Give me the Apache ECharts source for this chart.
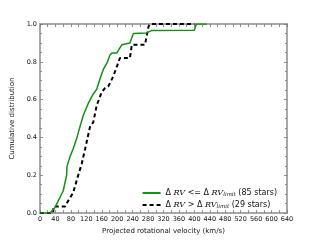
<!DOCTYPE html>
<html><head><meta charset="utf-8">
<script src="https://cdn.jsdelivr.net/npm/echarts@6/dist/echarts.min.js"></script>
<style>html,body{margin:0;padding:0;background:#fff}#c{width:320px;height:240px}</style>
</head><body><div id="c"></div>
<script>
// Green series: ΔRV <= ΔRV_limit (85 stars)
const greenX = [0, 26, 39, 60, 69, 70, 78, 86, 95, 104, 112, 125, 130, 138, 147, 155, 164, 175, 181, 186, 199, 203, 212, 233, 237, 242, 276, 289, 400, 405, 433];
const greenY = [0, 0, 0.03, 0.117, 0.2, 0.247, 0.3, 0.34, 0.394, 0.46, 0.516, 0.58, 0.59, 0.63, 0.655, 0.707, 0.76, 0.8, 0.835, 0.846, 0.846, 0.86, 0.89, 0.9, 0.905, 0.95, 0.953, 0.965, 0.967, 1.0, 1.0];
// Black dashed series: ΔRV > ΔRV_limit (29 stars)
const blackX = [0, 34, 35, 65, 73, 86, 99, 108, 117, 130, 138, 147, 160, 168, 177, 190, 200, 207, 233, 238, 272, 281, 285, 400];
const blackY = [0, 0, 0.035, 0.035, 0.065, 0.108, 0.2, 0.26, 0.34, 0.46, 0.48, 0.57, 0.64, 0.66, 0.67, 0.724, 0.78, 0.82, 0.82, 0.89, 0.89, 0.985, 1.0, 1.0];
const xTicks = [0, 640, 40];
const yTicks = [0, 1, 0.2];
const names = ['green', 'black'];

const axisGrey = '#a8a8a8';
const font = 'DejaVu Sans';
const chart = echarts.init(document.getElementById('c'), null, {renderer: 'canvas'});
function pairs(xs, ys){ return xs.map((x,i)=>[x, ys[i]]); }
const baseX = {
  type: 'value', min: xTicks[0], max: xTicks[1], interval: xTicks[2],
  axisLine: {show: true, onZero: false, lineStyle: {color: axisGrey, width: 2}},
  axisTick: {show: true, inside: true, length: 3, lineStyle: {color: '#777', width: 0.8}},
  minorTick: {show: true, splitNumber: 2, length: 3, lineStyle: {color: '#777', width: 0.8}},
  splitLine: {show: false}
};
const baseY = {
  type: 'value', min: yTicks[0], max: yTicks[1], interval: yTicks[2],
  axisLine: {show: true, onZero: false, lineStyle: {color: axisGrey, width: 2}},
  axisTick: {show: true, inside: true, length: 3, lineStyle: {color: '#777', width: 0.8}},
  minorTick: {show: true, splitNumber: 4, length: 2, lineStyle: {color: '#777', width: 0.8}},
  splitLine: {show: false}
};
const rich = {
  n: {fontFamily: font, fontSize: 8, color: '#111'},
  i: {fontFamily: 'DejaVu Serif', fontStyle: 'italic', fontSize: 8, color: '#111'},
  s: {fontFamily: 'DejaVu Serif', fontStyle: 'italic', fontSize: 5.5, color: '#111', padding: [4, 0, 0, 0]}
};
chart.setOption({
  animation: false,
  grid: {left: 40, right: 33, top: 24, bottom: 24},
  xAxis: [
    Object.assign({}, baseX, {
      position: 'bottom',
      name: 'Projected rotational velocity (km/s)', nameLocation: 'middle', nameGap: 13,
      nameTextStyle: {fontFamily: font, fontSize: 7, color: '#111'},
      axisLabel: {fontFamily: font, fontSize: 6.5, color: '#111', margin: 3}
    }),
    Object.assign({}, baseX, {position: 'top', axisLabel: {show: false}})
  ],
  yAxis: [
    Object.assign({}, baseY, {
      position: 'left',
      name: 'Cumulative distribution', nameLocation: 'middle', nameGap: 16,
      nameTextStyle: {fontFamily: font, fontSize: 7, color: '#111'},
      axisLabel: {fontFamily: font, fontSize: 6.5, color: '#111', margin: 3,
        formatter: v => v.toFixed(1)}
    }),
    Object.assign({}, baseY, {position: 'right', axisLabel: {show: false}})
  ],
  legend: {
    right: 38, bottom: 25, orient: 'vertical', itemGap: 3,
    itemWidth: 18, itemHeight: 9,
    data: names,
    itemStyle: {color: 'transparent', borderWidth: 0, opacity: 0},
    formatter: function(n){
      if (n === 'green') return '{n|Δ }{i|RV}{n| <= Δ }{i|RV}{s|limit}{n| (85 stars)}';
      return '{n|Δ }{i|RV}{n| > Δ }{i|RV}{s|limit}{n| (29 stars)}';
    },
    textStyle: {rich: rich, fontFamily: font, fontSize: 8, color: '#111'}
  },
  series: [
    {name: 'green', type: 'line', data: pairs(greenX, greenY), showSymbol: false, symbol: 'none',
     lineStyle: {color: '#159015', width: 1.5}, itemStyle: {color: '#159015'}, z: 3},
    {name: 'black', type: 'line', data: pairs(blackX, blackY), showSymbol: false, symbol: 'none',
     lineStyle: {color: '#000', width: 2, type: [4, 3]}, itemStyle: {color: '#000'}, z: 2}
  ]
});
</script></body></html>
